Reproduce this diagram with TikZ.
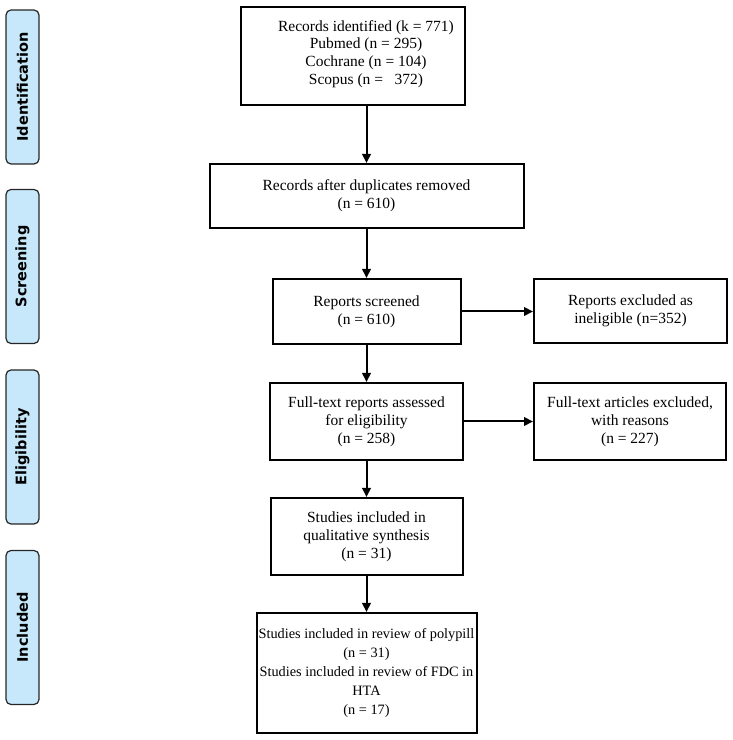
\documentclass[tikz,border=0pt]{standalone}
\usepackage{fontspec}
\setmainfont{Liberation Serif}
\newfontfamily\sidefont{DejaVu Sans}
\usetikzlibrary{arrows.meta}
\definecolor{sideblue}{RGB}{198,232,250}
\tikzset{
  box/.style={draw=black, line width=2pt, rectangle, inner sep=0pt, align=center, font=\fontsize{15.5}{18}\selectfont},
  txt/.style={align=center, inner sep=0pt, font=\fontsize{15.5}{17.7}\selectfont},
  side/.style={draw=black!85, line width=1.2pt, fill=sideblue, rounded corners=5pt, minimum width=33pt, minimum height=154pt, inner sep=0pt},
  sidetxt/.style={rotate=90, font=\sidefont\bfseries\fontsize{14.5}{18}\selectfont},
  arr/.style={line width=2pt, -{Triangle[length=9pt,width=8.5pt]}}
}
\begin{document}
\begin{tikzpicture}[x=1pt,y=1pt]
\useasboundingbox (0,0) rectangle (733,740);
% side labels
\node[side] (ident) at (22.5,653) {};
\node[sidetxt] (identt) at (ident.center) {Identification};
\node[side] (screen) at (22.5,473.5) {};
\node[sidetxt] (screent) at (screen.center) {Screening};
\node[side] (elig) at (22.5,293) {};
\node[sidetxt] (eligt) at (elig.center) {Eligibility};
\node[side] (incl) at (22.5,112.5) {};
\node[sidetxt] (inclt) at (incl.center) {Included};
% boxes
\node[box, minimum width=224pt, minimum height=98pt] (top) at (353,684) {};
\node[txt] (toptext) at (366,686) {Records identified (k = 771)\\Pubmed (n = 295)\\Cochrane (n = 104)\\Scopus (n = \ \ 372)};
\node[box, minimum width=314pt, minimum height=64pt] (dup) at (366.5,544) {Records after duplicates removed\\(n = 610)};
\node[box, minimum width=188pt, minimum height=65pt] (scr) at (366.5,428.5) {Reports screened\\(n = 610)};
\node[box, minimum width=193pt, minimum height=64pt] (ex1) at (630.5,429) {Reports excluded as\\ineligible (n=352)};
\node[box, minimum width=193pt, minimum height=77pt] (ft) at (366.5,318.5) {Full-text reports assessed\\for eligibility\\(n = 258)};
\node[box, minimum width=192pt, minimum height=77pt] (ex2) at (630,318.5) {Full-text articles excluded,\\with reasons\\(n = 227)};
\node[box, minimum width=192pt, minimum height=77pt] (qual) at (366.5,203.5) {Studies included in\\qualitative synthesis\\(n = 31)};
\node[box, minimum width=220pt, minimum height=120pt, font=\fontsize{14.3}{18.8}\selectfont] (fin) at (366.5,67) {Studies included in review of polypill\\(n = 31)\\Studies included in review of FDC in\\HTA\\(n = 17)};
% arrows
\draw[arr] (top.south -| dup.north) -- (dup.north);
\draw[arr] (dup.south -| scr.north) -- (scr.north);
\draw[arr] (scr.south -| ft.north) -- (ft.north);
\draw[arr] (ft.south -| qual.north) -- (qual.north);
\draw[arr] (qual.south -| fin.north) -- (fin.north);
\draw[arr] (scr.east) -- (scr.east -| ex1.west);
\draw[arr] (ft.east) -- (ft.east -| ex2.west);
\end{tikzpicture}
\end{document}
